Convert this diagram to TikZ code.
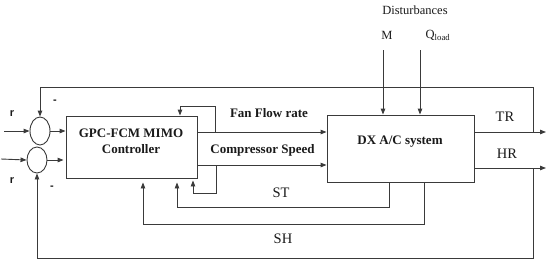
\documentclass[tikz,border=0pt]{standalone}
\usepackage{fontspec}
\setmainfont{Liberation Serif}
\newfontfamily\arialfont{Liberation Sans}
\usetikzlibrary{arrows.meta,calc,positioning,shapes.geometric}
\definecolor{dxLine}{HTML}{3A3A3A}
\definecolor{dxInk}{HTML}{1A1A1A}

\begin{document}
\begin{tikzpicture}[x=1pt,y=-1pt,>={Triangle[length=6pt,width=4.5pt]},line join=miter]
\path[fill=white] (0,0) rectangle (550,263);
\tikzset{sig/.style={draw=dxLine,line width=0.9pt,->},plainwire/.style={draw=dxLine,line width=0.9pt},blockbox/.style={draw=dxLine,line width=0.9pt,inner sep=0pt},sumnode/.style={ellipse,draw=dxLine,line width=0.9pt,inner sep=0pt,minimum width=20pt},boxtext/.style={text=dxInk,font=\fontsize{13}{16}\selectfont\bfseries,align=center},sigtext/.style={text=dxInk,font=\fontsize{14.5}{16}\selectfont},disttext/.style={text=dxInk,font=\fontsize{12.5}{14}\selectfont},signtext/.style={text=dxInk,font=\arialfont\bfseries\fontsize{11}{12}\selectfont}}
% blocks
\node[blockbox,minimum width=131pt,minimum height=62pt] (ctrl) at (131.5,147) {};
\node[boxtext] (ctrltxt) at (131,141) {GPC-FCM MIMO\\Controller};
\node[blockbox,minimum width=147pt,minimum height=67pt] (sys) at (400.5,148.5) {};
\node[boxtext] (systxt) at (400,142) {DX A/C system};
% summing junctions
\node[sumnode,minimum height=28pt] (sum1) at (40,131) {};
\node[sumnode,minimum height=26pt] (sum2) at (37,160) {};
\node[signtext] (r1) at (12,114) {r}; \node[signtext] (r2) at (12,181) {r};
\node[signtext] (minus1) at (55,102) {-}; \node[signtext] (minus2) at (52,188) {-};
% free ends
\coordinate (r1in) at (4,131); \coordinate (r2in) at (1,159);
\coordinate (trEnd) at (546,132); \coordinate (hrEnd) at (546,168);
\coordinate (trTap) at (533,132); \coordinate (hrTap) at (533,168);
\coordinate (fanTap) at (215,132); \coordinate (compTap) at (216,165);
\coordinate (mTop) at (383,50); \coordinate (qTop) at (420,50);
% references and controller inputs
\draw[sig] (r1in) -- (sum1.west);
\draw[sig] (r2in) -- (sum2.west);
\draw[sig] (sum1.east) -- (sum1.east -| ctrl.west);
\draw[sig,shorten >=2pt] (sum2.east) -- (sum2.east -| ctrl.west);
% manipulated variables
\draw[sig] (ctrl.east |- 0,132) -- (sys.west |- 0,132);
\draw[sig] (ctrl.east |- 0,165) -- (sys.west |- 0,165);
\node[boxtext] (fantxt) at (269,113) {Fan Flow rate};
\node[boxtext] (comptxt) at (262.5,150) {Compressor Speed};
\draw[sig] (fanTap) -- ++(0,-26) -| (ctrl.north -| 180,0);
\draw[sig,shorten >=2pt] (compTap) -- ++(0,28) -| (ctrl.south -| 193,0);
% disturbances
\draw[sig] (mTop) -- (sys.north -| mTop);
\draw[sig] (qTop) -- (sys.north -| qTop);
\node[disttext] (dist) at (415,10) {Disturbances};
\node[disttext] (mlabel) at (387,35) {M};
\node[disttext] (qlabel) at (438,35) {Q\textsubscript{load}};
% outputs
\draw[sig] (sys.east |- trEnd) -- (trEnd);
\draw[sig] (sys.east |- hrEnd) -- (hrEnd);
\node[sigtext] (trlabel) at (505,117) {TR};
\node[sigtext] (hrlabel) at (507,154) {HR};
% measured states
\draw[sig,shorten >=4pt] (sys.south -| 389,0) |- (177,207) -- (ctrl.south -| 177,0);
\draw[sig,shorten >=4pt] (sys.south -| 424,0) |- (143,224) -- (ctrl.south -| 143,0);
\node[sigtext] (stlabel) at (281,193) {ST};
\node[sigtext] (shlabel) at (283,239) {SH};
% output feedback
\draw[sig] (trTap) |- (sum1.north |- 0,87) -- (sum1.north);
\draw[sig] (hrTap) |- (sum2.south |- 0,258) -- (sum2.south);
\end{tikzpicture}
\end{document}
